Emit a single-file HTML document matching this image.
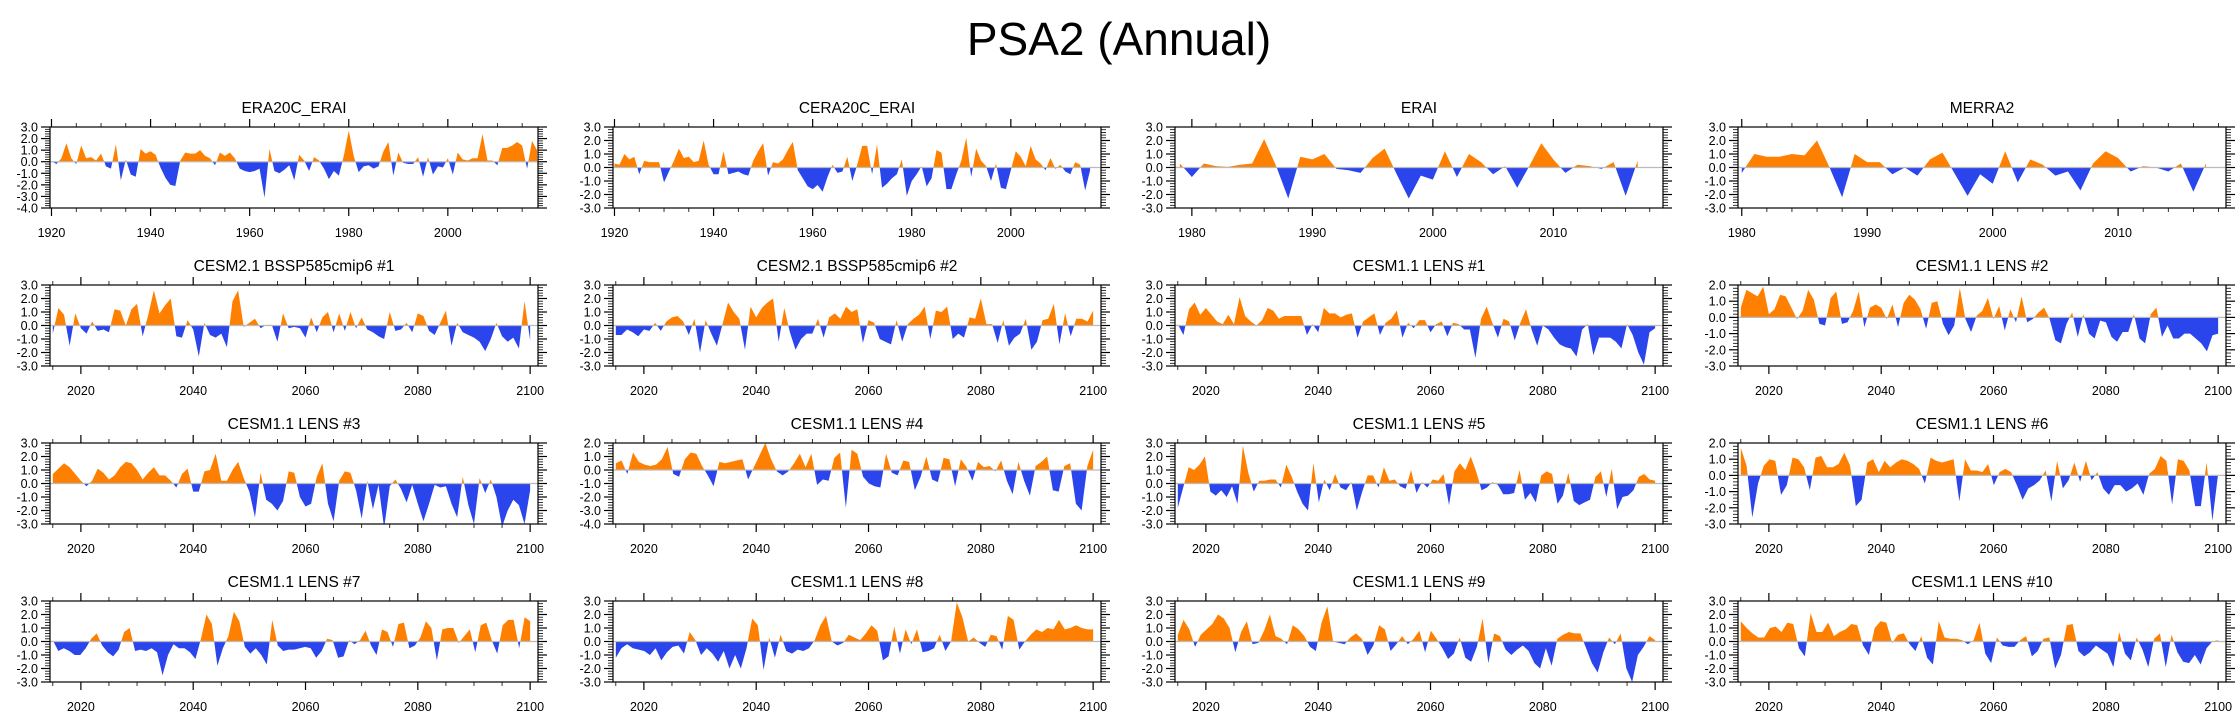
<!DOCTYPE html>
<html><head><meta charset="utf-8"><style>
html,body{margin:0;padding:0;background:#fff;}
svg text{font-family:"Liberation Sans",Arial,sans-serif;}
</style></head><body>
<svg id="chart" width="2238" height="719" viewBox="0 0 2238 719" xmlns="http://www.w3.org/2000/svg">
<text x="1119" y="55" font-size="46" text-anchor="middle">PSA2 (Annual)</text>
</svg>
<script>
const titles = ["ERA20C_ERAI","CERA20C_ERAI","ERAI","MERRA2",
"CESM2.1 BSSP585cmip6 #1","CESM2.1 BSSP585cmip6 #2","CESM1.1 LENS #1","CESM1.1 LENS #2",
"CESM1.1 LENS #3","CESM1.1 LENS #4","CESM1.1 LENS #5","CESM1.1 LENS #6",
"CESM1.1 LENS #7","CESM1.1 LENS #8","CESM1.1 LENS #9","CESM1.1 LENS #10"];
const startYears = [1920,1920,1979,1980, 2015,2015,2015,2015, 2015,2015,2015,2015, 2015,2015,2015,2015];
const endYears = [2018,2016,2017,2017, 2100,2100,2100,2100, 2100,2100,2100,2100, 2100,2100,2100,2100];
const yMins = [-4,-3,-3,-3, -3,-3,-3,-3, -3,-4,-3,-3, -3,-3,-3,-3];
const yMaxs = [3,3,3,3, 3,3,3,2, 3,2,3,2, 3,3,3,3];
const s0 = [0.05,-0.2,0.3,1.6,0.3,-0.2,1.4,0.3,0.4,0.1,0.7,-0.4,-0.6,1.5,-1.6,0.2,-1.1,-1.3,1.1,0.7,0.9,0.6,-0.5,-1.4,-2.0,-2.1,0.1,0.8,0.7,0.7,1.0,0.5,0.3,-0.3,0.8,0.5,0.8,0.3,-0.6,-0.8,-0.9,-0.8,-0.6,-3.1,1.1,-0.8,-1.0,-0.7,-0.3,-1.6,0.6,0.1,-0.8,0.4,0.1,-0.6,-1.5,-0.8,-1.2,0.5,2.7,0.5,-0.9,-0.4,-0.3,-0.6,-0.4,0.9,1.7,-1.2,0.8,-0.1,-0.2,-0.2,0.4,-1.3,0.4,-1.1,-0.4,-0.5,0.3,-1.1,0.8,0.2,0.1,0.3,0.3,2.4,0.1,0.1,-0.3,1.2,1.2,1.4,1.7,1.4,-0.6,1.8,1.0];
const s1 = [0.3,0.2,1.0,0.6,0.8,-0.5,0.5,0.4,0.4,0.4,-1.1,-0.3,0.5,1.4,0.7,0.8,0.4,0.5,2.0,0.2,-0.5,-0.5,1.2,-0.5,-0.4,-0.3,-0.5,-0.6,0.5,1.2,1.8,-0.6,0.4,0.3,0.6,1.3,1.9,-0.2,-0.8,-1.4,-1.6,-1.3,-1.8,-0.7,0.2,-0.4,-0.3,0.8,-1.0,0.2,1.6,1.6,-0.5,1.7,-1.5,-1.2,-0.8,-0.5,0.6,-2.1,-1.0,-0.5,0.1,-1.4,-0.8,1.3,1.1,-1.6,-1.6,-0.5,0.5,2.2,-0.7,1.4,0.5,0.1,-1.0,0.3,-1.5,-1.6,-0.2,1.2,0.8,0.1,1.6,0.6,0.3,-0.2,0.7,-0.1,0.2,-0.3,-0.5,0.4,0.2,-1.7,-0.2];
const s2 = [0.3,-0.7,0.3,0.1,0.05,0.2,0.3,2.1,0.1,-2.3,0.8,0.6,1.0,-0.1,-0.2,-0.4,0.7,1.4,-0.5,-2.3,-0.6,-0.9,1.2,-0.7,1.0,0.4,-0.5,0.1,-1.5,0.1,1.8,0.6,-0.4,0.2,0.1,-0.1,0.4,-2.1,0.5];
const s3 = [-0.4,1.0,0.8,0.8,1.0,0.9,2.0,0.0,-2.2,1.0,0.4,0.4,-0.5,0.0,-0.6,0.6,1.1,-0.5,-2.1,-0.5,-1.2,1.2,-1.1,0.6,0.2,-0.6,-0.3,-1.7,0.3,1.2,0.7,-0.3,0.1,0.0,-0.3,0.3,-1.8,0.3];
const s4 = [-0.6,1.3,0.8,-1.5,0.9,-0.2,-0.6,0.3,-0.4,-0.3,-0.5,1.2,1.1,0.0,1.2,1.6,-0.8,0.8,2.6,0.9,1.5,2.0,-0.8,-0.9,0.4,-0.3,-2.3,0.2,-0.7,-0.9,-0.6,-1.6,1.8,2.6,-0.1,0.2,0.5,-0.2,0.05,0.05,-1.2,0.9,-0.2,-0.1,-0.2,-0.9,0.6,-0.5,0.6,1.0,-0.5,0.9,-0.4,1.0,-0.2,0.6,-0.3,-0.5,-0.8,-1.0,1.0,-0.4,-0.3,0.2,-0.5,0.9,0.7,-0.4,-0.7,0.2,1.1,-1.5,0.2,-0.5,-0.7,-0.9,-1.2,-1.9,-1.0,0.2,-0.8,-1.2,-0.9,-1.7,1.8,-1.1];
const s5 = [-0.7,-0.7,-0.3,-0.5,-0.8,-0.3,-0.4,0.2,-0.4,0.3,0.6,0.7,0.3,-0.7,0.5,-2.0,0.4,-0.6,-1.5,0.1,1.7,1.0,0.5,-1.8,1.4,0.6,1.3,1.7,2.0,-1.2,1.3,-0.5,-1.8,-1.0,-0.6,-0.6,0.5,-0.9,0.6,0.9,0.5,1.4,1.0,1.2,-1.3,0.4,0.2,-1.0,-1.2,-1.4,0.4,-1.2,0.1,0.5,0.8,1.4,-1.0,1.1,1.0,1.4,-1.0,-0.6,-0.9,0.6,0.5,2.0,0.1,0.1,-1.3,0.4,-1.5,-0.9,-0.6,0.5,-1.8,-1.2,0.4,0.5,1.6,-1.4,0.9,-0.8,0.5,0.5,0.3,1.1];
const s6 = [0.1,-0.7,1.2,1.7,0.8,1.3,0.8,0.3,0.1,0.8,0.1,2.1,0.7,0.3,0.0,0.4,1.3,1.1,0.5,0.7,0.7,0.7,0.7,-0.7,0.1,-0.5,1.3,0.9,0.9,0.6,0.8,0.9,-0.9,0.3,0.6,0.9,-0.7,0.2,0.5,1.1,-0.9,0.2,-0.2,0.4,0.4,-0.5,0.1,0.3,-0.8,0.2,0.1,-0.3,-0.3,-2.4,0.5,1.4,0.2,-0.9,0.5,0.3,-1.1,0.2,1.2,-0.3,-1.5,0.0,-0.3,-0.9,-1.4,-1.6,-1.7,-2.3,-0.3,0.1,-2.2,-0.9,-0.9,-0.9,-1.2,-1.7,0.1,-0.7,-2.0,-2.9,-0.5,-0.2];
const s7 = [0.6,1.7,1.5,1.3,1.9,0.2,0.5,1.4,1.3,0.6,-0.1,0.4,1.7,1.1,-0.4,-0.5,1.2,1.6,-0.4,-0.3,0.4,1.6,-0.6,0.6,0.8,0.6,-0.1,0.8,-0.6,0.9,1.4,1.1,0.5,-0.7,0.9,1.0,-0.4,-1.1,-0.5,1.8,-0.1,-0.9,0.1,0.4,1.2,-0.1,0.7,-0.8,0.5,-0.3,1.3,-0.3,-0.1,0.3,0.6,-0.1,-1.4,-1.6,-0.4,0.3,-1.2,0.2,-1.0,-1.3,-0.2,-0.3,-1.2,-1.5,-0.9,-0.9,0.2,-1.3,-1.6,0.2,0.6,-1.2,-0.5,-1.3,-1.3,-1.0,-1.0,-1.3,-1.6,-2.1,-1.1,-1.0];
const s8 = [0.7,1.1,1.5,1.2,0.7,0.2,-0.2,0.2,1.1,0.8,0.3,0.6,1.2,1.6,1.5,1.0,0.3,0.8,1.2,0.6,0.6,0.2,-0.3,0.7,1.1,-0.6,-0.6,0.9,1.0,2.2,0.2,0.2,1.0,1.6,0.4,-0.6,-2.5,0.8,-1.2,-1.5,-2.0,-1.3,0.9,0.8,-1.0,-1.7,-1.5,0.5,1.5,-1.5,-2.8,0.2,0.9,0.8,-0.5,-2.6,0.2,-1.9,-0.1,-3.3,-0.2,0.3,-0.4,-1.4,-0.1,-1.5,-2.8,-1.5,-0.1,-0.3,-0.2,-1.5,-2.5,0.5,-1.6,-3.0,0.4,-0.7,0.3,-1.0,-3.2,-2.0,-1.2,-1.6,-3.0,-0.5];
const s9 = [0.5,0.7,-0.3,1.3,0.6,0.4,0.3,0.4,0.8,1.7,-0.3,-0.5,0.8,1.3,1.2,0.3,-0.4,-1.2,0.6,0.5,0.6,0.7,0.8,-0.7,0.2,1.1,2.0,0.8,-0.1,-0.4,-0.1,0.5,1.2,0.2,1.2,-1.1,-0.7,-0.8,0.9,1.3,-2.8,1.5,1.2,-0.5,-1.0,-1.2,-1.3,1.2,-0.2,-0.4,0.7,0.6,-1.5,-0.5,1.0,-0.7,-0.9,0.9,0.8,-1.2,0.8,0.2,-0.8,0.6,0.2,0.3,-0.1,0.7,-0.8,-1.8,0.6,-0.8,-1.9,0.3,0.6,1.0,-1.5,-1.6,0.3,0.5,-2.5,-3.0,0.3,1.5];
const s10 = [-1.8,-0.3,1.2,1.0,1.4,2.0,-0.6,-0.9,-0.5,-1.0,-0.2,-1.5,2.8,0.8,-0.6,0.2,0.2,0.3,0.3,-0.3,1.4,0.5,-0.6,-1.5,-2.0,1.5,-1.4,0.3,-0.5,0.7,-0.3,-0.5,0.1,-2.0,-0.6,0.6,0.6,-0.3,1.2,0.2,0.3,-0.2,-0.4,1.0,-0.7,0.1,-0.3,0.3,0.2,0.7,-1.6,0.9,1.5,1.0,2.0,0.9,-0.5,-0.3,0.1,-0.1,-0.8,-0.8,-0.7,1.0,-1.2,-0.7,-1.4,0.6,0.9,0.7,-1.5,-0.9,0.8,-1.3,-1.6,-1.4,-1.2,0.5,0.9,-1.0,1.1,-1.9,-1.0,-0.9,-0.5,0.5,0.7,0.3,0.2];
const s11 = [1.7,0.6,-2.6,-0.5,0.6,1.0,0.9,-1.2,-0.6,1.1,1.0,0.5,-0.9,1.1,1.2,0.5,0.5,0.7,1.4,0.6,-1.9,-1.5,0.8,1.0,0.2,0.9,0.5,0.8,1.0,0.9,0.7,0.4,-0.5,1.1,0.9,0.8,0.9,1.0,-1.6,1.0,0.3,0.3,0.2,0.7,-0.6,0.2,0.4,0.2,-0.6,-1.5,-0.8,-0.6,-0.3,0.3,-1.6,0.9,-0.8,-0.3,0.8,-0.4,0.9,-0.3,0.2,-0.8,-1.2,-0.6,-0.6,-1.0,-0.8,-0.5,-1.2,0.1,0.4,1.2,0.9,-1.8,1.0,0.9,0.3,-1.9,-1.9,0.8,-2.8,0.1];
const s12 = [0.1,-0.7,-0.5,-0.7,-1.0,-1.0,-0.5,0.2,0.6,-0.3,-0.8,-1.1,-0.6,0.7,1.0,-0.7,-0.6,-0.7,-0.5,-0.8,-2.5,-1.0,-0.2,-0.5,-0.5,-0.8,-1.3,0.2,2.0,1.3,-1.8,-0.5,0.4,2.2,1.5,-0.4,-0.9,-0.5,-1.0,-1.7,1.6,-0.3,-0.7,-0.6,-0.6,-0.5,-0.4,-0.5,-1.2,-0.7,0.2,0.1,-1.2,-1.1,0.1,-0.2,0.1,0.8,-0.3,-1.0,0.9,0.7,-0.4,1.3,1.4,-0.5,-0.3,0.3,1.5,1.0,-1.4,0.9,1.0,1.0,-0.1,0.4,0.9,-0.8,1.2,1.4,0.1,-0.9,1.2,1.6,1.6,-0.5,1.8,1.5];
const s13 = [-1.2,-0.5,-0.2,-0.5,-0.6,-0.7,-1.0,-0.5,-1.4,-0.8,-0.4,-0.3,-0.9,0.7,0.1,-1.0,-0.5,-0.9,-1.5,-0.7,-2.0,-1.0,-2.0,-0.5,1.7,1.2,-2.1,0.3,-1.2,0.5,-0.7,-0.9,-0.6,-0.7,-0.5,0.1,1.2,1.9,0.0,-0.3,-0.1,0.5,0.3,0.1,0.6,1.2,0.8,-1.4,-1.1,1.1,-0.9,0.9,-0.2,0.9,-0.8,-0.7,-0.5,0.5,-0.7,0.0,2.9,1.8,0.0,0.3,-0.1,-0.4,0.5,0.4,-0.6,1.9,1.6,-0.6,0.0,0.5,0.9,0.7,1.0,0.9,1.6,0.9,1.0,1.2,1.0,0.9,0.9];
const s14 = [0.5,1.6,0.9,-0.4,0.5,0.9,1.3,2.0,1.7,1.0,-0.8,0.7,1.5,-0.2,-0.1,0.8,2.0,0.4,0.2,-0.2,1.2,0.9,0.4,-0.4,-0.7,1.4,2.6,0.0,-0.1,-0.2,0.3,0.6,0.2,-1.0,-0.3,1.2,0.9,-0.7,-0.2,0.4,-0.2,0.2,0.8,-0.8,0.8,0.2,-0.5,-1.3,-0.9,0.3,-1.2,-1.5,-0.4,1.7,-1.6,0.6,0.4,-0.6,-1.0,-0.6,-0.3,-0.7,-1.6,-2.0,-0.5,-1.8,0.2,0.5,0.7,0.6,0.6,-0.5,-1.6,-2.3,-0.8,0.3,-0.2,0.6,-2.0,-3.0,-1.0,-0.4,0.4,0.1];
const s15 = [1.5,1.0,0.6,0.3,0.3,1.0,1.1,0.7,1.4,1.3,-0.5,-1.1,2.1,0.7,0.7,1.4,0.4,0.7,0.9,1.3,1.2,-0.3,-1.0,1.0,1.5,1.4,-0.1,0.5,0.6,-0.2,-0.7,0.4,-1.2,-1.7,1.5,0.3,0.2,0.2,0.1,-0.2,0.1,1.4,-0.9,-1.6,0.3,-0.3,-0.4,-0.4,0.1,0.4,-1.1,-0.7,0.2,0.3,-2.0,-1.0,1.2,1.3,-0.7,-1.1,-0.8,-0.3,-0.6,-0.9,-1.9,0.7,-0.9,-1.4,0.3,-0.6,-1.9,0.2,0.6,-1.9,0.5,-0.8,-1.5,-1.6,-1.0,-1.7,-0.5,0.0,0.1];
const series = [s0,s1,s2,s3,s4,s5,s6,s7,s8,s9,s10,s11,s12,s13,s14,s15];

const NS = "http://www.w3.org/2000/svg";
const svg = document.getElementById("chart");
const colLeft = [50,613,1175,1738], rowTop = [127,285,443,601], W = 488, H = 81;
function mk(tag, attrs, parent){ const e=document.createElementNS(NS,tag); for(const k in attrs) e.setAttribute(k,attrs[k]); (parent||svg).appendChild(e); return e; }

series.forEach((vals, p) => {
  const col = p%4, row = Math.floor(p/4);
  const L = colLeft[col], T = rowTop[row];
  let xmin, xmax, majStep, minStep, majStart;
  if (p<2){ xmin=1919.7; xmax=2018.2; majStep=20; minStep=5; majStart=1920; }
  else if (p==2){ xmin=1978.6; xmax=2019.1; majStep=10; minStep=2; majStart=1980; }
  else if (p==3){ xmin=1979.7; xmax=2018.6; majStep=10; minStep=2; majStart=1980; }
  else { xmin=2014.5; xmax=2101.4; majStep=20; minStep=5; majStart=2020; }
  const ymin=yMins[p], ymax=yMaxs[p];
  const xs = t => L + (t-xmin)/(xmax-xmin)*W;
  const ys = v => T + (ymax-v)/(ymax-ymin)*H;
  const g = mk("g",{});
  
  
  const cid="clip"+p;
  const cp=mk("clipPath",{id:cid},g); mk("rect",{x:L,y:T,width:W,height:H},cp);
  // years for each value
  const n = vals.length, y0=startYears[p], y1=endYears[p];
  const yr = i => y0 + i*(y1-y0)/(n-1);
  const pts=[];
  for(let i=0;i<n;i++){
    if(i>0){ const a=vals[i-1], b=vals[i]; if(a*b<0){ const f=a/(a-b); pts.push([yr(i-1)+f*(yr(i)-yr(i-1)),0]); } }
    pts.push([yr(i),vals[i]]);
  }
  function area(sign){
    let d="M"+xs(pts[0][0])+","+ys(0);
    pts.forEach(q=>{ const v = sign>0?Math.max(q[1],0):Math.min(q[1],0); d+="L"+xs(q[0]).toFixed(2)+","+ys(v).toFixed(2); });
    d+="L"+xs(pts[pts.length-1][0])+","+ys(0)+"Z"; return d;
  }
  const pos=mk("path",{d:area(1),fill:"#ff8000","clip-path":"url(#"+cid+")"},g);
  
  
  const neg=mk("path",{d:area(-1),fill:"#2b45ec","clip-path":"url(#"+cid+")"},g);
  
  
  const zl=mk("line",{x1:L,x2:L+W,y1:ys(0),y2:ys(0),stroke:"#bbbbbb","stroke-width":1.2},g);
  
  
  const fr=mk("rect",{x:L,y:T,width:W,height:H,fill:"none",stroke:"#000","stroke-width":1.2},g);
  
  
  // y ticks
  for(let k=Math.round(ymin*5);k<=Math.round(ymax*5);k++){
    const v=k/5, yy=ys(v), major=(k%5===0), len=major?9:5;
    mk("line",{x1:L-len,x2:L,y1:yy,y2:yy,stroke:"#000","stroke-width":major?1.2:0.8},g);
    mk("line",{x1:L+W,x2:L+W+len,y1:yy,y2:yy,stroke:"#000","stroke-width":major?1.2:0.8},g);
    if(major){
      const t=mk("text",{x:L-12,y:yy+4.5,"font-size":12.5,"text-anchor":"end"},g);
      t.textContent=v.toFixed(1);
      
      
    }
  }
  // x ticks
  for(let t=Math.ceil(xmin/minStep)*minStep;t<=xmax;t+=minStep){
    const xx=xs(t), major=((t-majStart)%majStep===0 && t>=majStart), len=major?8:4;
    mk("line",{x1:xx,x2:xx,y1:T-len,y2:T,stroke:"#000","stroke-width":major?1.2:0.8},g);
    mk("line",{x1:xx,x2:xx,y1:T+H,y2:T+H+len,stroke:"#000","stroke-width":major?1.2:0.8},g);
    if(major){
      const tx=mk("text",{x:xx,y:T+H+29,"font-size":12.5,"text-anchor":"middle"},g);
      tx.textContent=String(t);
      
      
    }
  }
  const tt=mk("text",{x:L+W/2,y:T-14,"font-size":15.5,"text-anchor":"middle"},g);
  tt.textContent=titles[p];
  
  
});
</script>
</body></html>
